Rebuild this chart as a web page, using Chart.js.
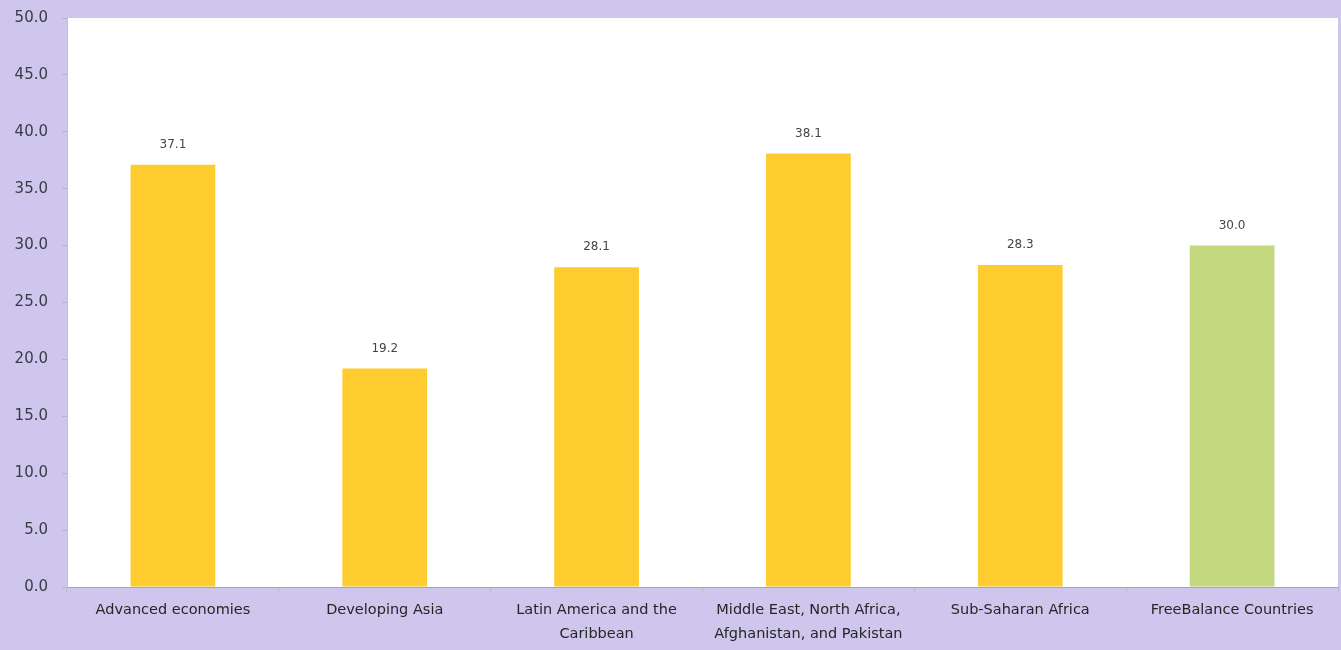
<!DOCTYPE html>
<html>
<head>
<meta charset="utf-8">
<script src="https://cdn.jsdelivr.net/npm/chart.js@4"></script>
<style>
  html, body { margin: 0; padding: 0; background: #CEC6EC; }
  #wrap { width: 1341px; height: 650px; position: relative; }
  canvas { display: block; }
</style>
</head>
<body>
<div id="wrap"><canvas id="chart" width="1341" height="650"></canvas></div>
<script>
// Regions and their shares (per cent)
const categories = [
  'Advanced economies',
  'Developing Asia',
  ['Latin America and the', 'Caribbean'],
  ['Middle East, North Africa,', 'Afghanistan, and Pakistan'],
  'Sub-Saharan Africa',
  'FreeBalance Countries'
];
const values = [37.1, 19.2, 28.1, 38.1, 28.3, 30.0];
const barColors = ['#FFCC2F', '#FFCC2F', '#FFCC2F', '#FFCC2F', '#FFCC2F', '#C3D87F'];
const yTicks = [0, 5, 10, 15, 20, 25, 30, 35, 40, 45, 50];

const FONT = "'DejaVu Sans', 'Liberation Sans', sans-serif";

// White plotting area over the lavender page
const plotBackground = {
  id: 'plotBackground',
  beforeDraw(chart) {
    const { ctx, chartArea: a } = chart;
    ctx.save();
    ctx.fillStyle = '#FFFFFF';
    ctx.fillRect(a.left, a.top, a.right - a.left, a.bottom - a.top);
    ctx.restore();
  }
};

// Value printed above each bar
const valueLabels = {
  id: 'valueLabels',
  afterDatasetsDraw(chart) {
    const { ctx } = chart;
    const meta = chart.getDatasetMeta(0);
    ctx.save();
    ctx.font = '12px ' + FONT;
    ctx.fillStyle = '#454545';
    ctx.textAlign = 'center';
    ctx.textBaseline = 'middle';
    meta.data.forEach((bar, i) => {
      ctx.fillText(values[i].toFixed(1), bar.x, bar.y - 20);
    });
    ctx.restore();
  }
};

new Chart(document.getElementById('chart'), {
  type: 'bar',
  data: {
    labels: categories,
    datasets: [{
      data: values,
      backgroundColor: barColors,
      borderWidth: 0,
      barPercentage: 0.4,
      categoryPercentage: 1.0
    }]
  },
  options: {
    responsive: false,
    animation: false,
    layout: { padding: { left: 0, top: 18, right: 3, bottom: 0 } },
    plugins: {
      legend: { display: false },
      tooltip: { enabled: false }
    },
    scales: {
      x: {
        offset: true,
        grid: {
          display: true,
          offset: true,
          drawOnChartArea: false,
          drawTicks: true,
          tickLength: 5,
          color: '#BDBDBD'
        },
        border: { display: true, color: '#A6A6A6', width: 1 },
        ticks: {
          font: { family: FONT, size: 14.5, lineHeight: 1.6 },
          color: '#262626',
          padding: 7,
          maxRotation: 0,
          autoSkip: false
        },
        afterFit(scale) {
          scale.height = 63;
          scale.paddingLeft = 0;
          scale.paddingRight = 0;
        }
      },
      y: {
        min: 0,
        max: 50,
        afterBuildTicks(scale) { scale.ticks = yTicks.map(v => ({ value: v })); },
        grid: {
          display: true,
          drawOnChartArea: false,
          drawTicks: true,
          tickLength: 5,
          color: '#B8B2CF'
        },
        border: { display: true, color: '#C4BEDC', width: 1 },
        ticks: {
          font: { family: FONT, size: 15 },
          color: '#3A3A48',
          padding: 14,
          callback: v => Number(v).toFixed(1)
        },
        afterFit(scale) {
          scale.width = 67;
          scale.paddingTop = 0;
          scale.paddingBottom = 0;
        }
      }
    }
  },
  plugins: [plotBackground, valueLabels]
});
</script>
</body>
</html>
